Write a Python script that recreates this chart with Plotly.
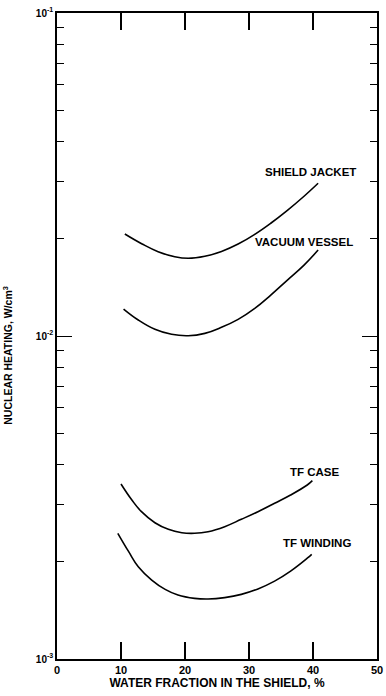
import math
import plotly.graph_objects as go

# Data (water fraction %, nuclear heating W/cm^3)
sj_x = [10.6, 13.3, 15.8, 18.4, 20.5, 23.1, 25.7, 28.3, 30.9, 33.4, 36.0, 38.6, 40.8]
sj_y = [0.02069, 0.01927, 0.01824, 0.01760, 0.01740, 0.01765, 0.01827, 0.01926, 0.02064, 0.02234, 0.02449, 0.02708, 0.02971]

vv_x = [10.4, 12.7, 15.3, 17.9, 20.5, 23.1, 25.7, 28.3, 30.9, 33.4, 36.0, 38.6, 40.8]
vv_y = [0.01212, 0.01121, 0.01049, 0.01012, 0.01002, 0.01019, 0.01064, 0.01126, 0.01218, 0.01339, 0.01490, 0.01658, 0.01845]

tc_x = [10.0, 11.7, 13.2, 15.3, 17.4, 19.5, 21.5, 23.6, 26.2, 28.8, 31.4, 34.0, 36.5, 39.1, 39.9]
tc_y = [0.003482, 0.003106, 0.002858, 0.002642, 0.002520, 0.002460, 0.002450, 0.002478, 0.002569, 0.002707, 0.002858, 0.003034, 0.003219, 0.003457, 0.003565]

tw_x = [9.5, 11.2, 12.7, 14.8, 16.9, 18.9, 21.5, 23.6, 26.2, 28.8, 31.4, 34.0, 36.5, 39.1, 39.8]
tw_y = [0.002450, 0.002149, 0.001931, 0.001756, 0.001643, 0.001578, 0.001541, 0.001534, 0.001549, 0.001585, 0.001648, 0.001742, 0.001871, 0.002051, 0.002109]

series_names = ["SHIELD JACKET", "VACUUM VESSEL", "TF CASE", "TF WINDING"]
label_x = [47.0, 46.5, 44.5, 46.2]
label_y = [0.0322, 0.01955, 0.00379, 0.00229]

x_ticks = [0, 10, 20, 30, 40, 50]
y_major = [0.001, 0.01, 0.1]
y_major_text = ["10<sup>-3</sup>", "10<sup>-2</sup>", "10<sup>-1</sup>"]
y_minor = [m * d for d in (0.001, 0.01) for m in range(2, 10)]

FONT = "Liberation Sans"

fig = go.Figure()
for xs, ys in [(sj_x, sj_y), (vv_x, vv_y), (tc_x, tc_y), (tw_x, tw_y)]:
    fig.add_trace(go.Scatter(x=xs, y=ys, mode="lines",
                             line=dict(color="black", width=1.6, shape="spline", smoothing=1.2),
                             showlegend=False, hoverinfo="skip"))

for name, lx, ly in zip(series_names, label_x, label_y):
    fig.add_annotation(x=lx, y=math.log10(ly), yref="y", xref="x", text="<b>" + name + "</b>",
                       showarrow=False, xanchor="right", yanchor="middle",
                       font=dict(family=FONT, size=11.5, color="black"))

fig.add_annotation(x=-0.155, y=0.47, xref="paper", yref="paper",
                   text="<b>NUCLEAR HEATING, W/cm<sup>3</sup></b>",
                   showarrow=False, textangle=-90, xanchor="center", yanchor="middle",
                   font=dict(family=FONT, size=10.5, color="black"))

fig.update_layout(
    width=386, height=696,
    margin=dict(l=57, r=9, t=13, b=37, autoexpand=False),
    paper_bgcolor="white", plot_bgcolor="white",
    font=dict(family=FONT, color="black"),
    xaxis=dict(range=[0, 50], tickvals=x_ticks, ticktext=["<b>%d</b>" % v for v in x_ticks],
               ticks="inside", ticklen=17, tickwidth=1.5, tickcolor="black",
               showline=True, linecolor="black", linewidth=1.6, mirror="ticks",
               showgrid=False, zeroline=False, automargin=False,
               tickfont=dict(family=FONT, size=11, color="black"),
               title=dict(text="<b>WATER FRACTION IN THE SHIELD, %</b>",
                          font=dict(family=FONT, size=12, color="black"), standoff=2)),
    yaxis=dict(type="log", range=[-3, -1], tickvals=y_major, ticktext=["<b>%s</b>" % t for t in y_major_text],
               ticks="inside", ticklen=15, tickwidth=1.3, tickcolor="black",
               showline=True, linecolor="black", linewidth=1.6, mirror="ticks",
               showgrid=False, zeroline=False, automargin=False,
               tickfont=dict(family=FONT, size=10, color="black"),
               minor=dict(tickvals=y_minor, ticks="inside", ticklen=7, tickwidth=1.3, tickcolor="black",
                          showgrid=False)),
)

fig.write_html("out.html", config={"displayModeBar": False},
               post_script="document.body.style.margin='0';document.body.style.overflow='hidden';")
